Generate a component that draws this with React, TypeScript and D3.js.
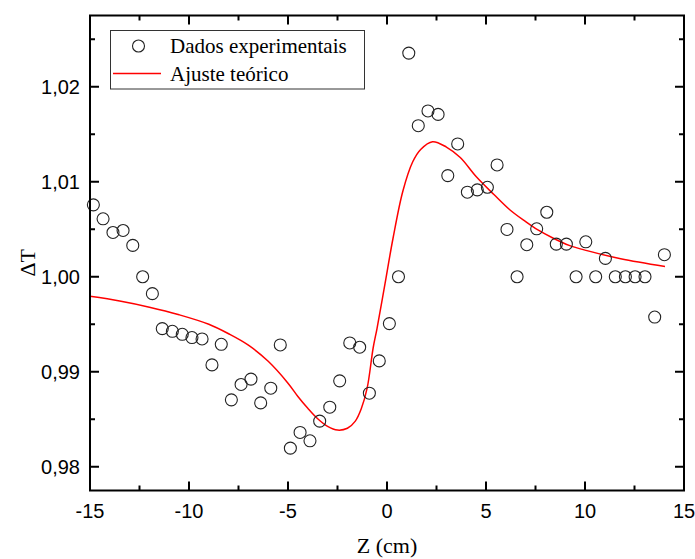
import React from 'react';
import * as d3 from 'd3';

const zData = [-14.83, -14.34, -13.84, -13.33, -12.84, -12.34, -11.85, -11.35, -10.84, -10.34, -9.85, -9.34, -8.84, -8.37, -7.86, -7.37, -6.87, -6.38, -5.87, -5.39, -4.88, -4.39, -3.89, -3.40, -2.89, -2.39, -1.88, -1.38, -0.89, -0.39, 0.12, 0.58, 1.10, 1.58, 2.07, 2.58, 3.07, 3.57, 4.06, 4.56, 5.07, 5.56, 6.06, 6.57, 7.06, 7.56, 8.07, 8.55, 9.06, 9.55, 10.04, 10.54, 11.03, 11.53, 12.04, 12.53, 13.03, 13.52, 14.01];
const tData = [1.00757, 1.0061, 1.00466, 1.00487, 1.0033, 1.0000, 0.99822, 0.99454, 0.99426, 0.99394, 0.9936, 0.99345, 0.99072, 0.99289, 0.98704, 0.98866, 0.98922, 0.98672, 0.98827, 0.99282, 0.98196, 0.98361, 0.98273, 0.9848, 0.98627, 0.98904, 0.99303, 0.99258, 0.98774, 0.99114, 0.99507, 1.0000, 1.02354, 1.0159, 1.01745, 1.01709, 1.01065, 1.01398, 1.0089, 1.00915, 1.00942, 1.01177, 1.00498, 1.0000, 1.00337, 1.00505, 1.00679, 1.00343, 1.00343, 1.0000, 1.00368, 1.0000, 1.00193, 1.0000, 1.0000, 1.0000, 1.0000, 0.99576, 1.00232];

const zFit = [-15.0, -13.5, -12.0, -10.5, -9.0, -8.0, -7.0, -6.0, -5.0, -4.5, -4.0, -3.5, -3.0, -2.5, -2.0, -1.6, -1.3, -1.0, -0.7, -0.5, -0.1, 0.3, 0.8, 1.3, 1.7, 2.3, 3.0, 3.7, 4.5, 5.4, 6.2, 7.0, 7.6, 8.4, 9.2, 10.1, 11.8, 14.04];
const tFit = [0.99794, 0.99745, 0.99680, 0.99600, 0.99500, 0.99400, 0.99280, 0.99110, 0.98880, 0.98740, 0.98615, 0.98505, 0.98425, 0.98386, 0.98405, 0.98480, 0.98610, 0.98830, 0.99250, 0.99460, 0.99927, 1.00400, 1.00900, 1.01210, 1.01340, 1.01422, 1.01365, 1.01255, 1.01055, 1.00865, 1.00705, 1.00580, 1.00495, 1.00405, 1.00330, 1.00275, 1.00190, 1.00109];

const xTicks = [-15, -10, -5, 0, 5, 10, 15];
const xMinor = [-12.5, -7.5, -2.5, 2.5, 7.5, 12.5];
const yTicks = [0.98, 0.99, 1.0, 1.01, 1.02];
const yMinor = [0.985, 0.995, 1.005, 1.015, 1.025];
const legendLabels = ['Dados experimentais', 'Ajuste teórico'];
const xLabel = 'Z (cm)';
const yLabel = 'ΔT';

export default function App() {
  const W = 695, H = 559;
  const L = 90, R = 684, T = 15.5, B = 490.5;
  const x = d3.scaleLinear().domain([-15, 15]).range([L, R]);
  const y = d3.scaleLinear().domain([0.9775, 1.0275]).range([B, T]);
  const fmtY = (v: number) => d3.format('.2f')(v).replace('.', ',');
  const line = d3.line<number>()
    .x((_, i) => x(zFit[i]))
    .y((d) => y(d))
    .curve(d3.curveCatmullRom.alpha(0.5));
  const sans = 'Arial, "Liberation Sans", sans-serif';
  const serif = '"Times New Roman", "Liberation Serif", serif';
  const majLen = 9, minLen = 5;
  return (
    <svg width={W} height={H} style={{ position: 'absolute', left: 0, top: 0, background: '#fff' }}>
      <rect x={0} y={0} width={W} height={H} fill="#fff" />
      <path d={line(tFit) || ''} fill="none" stroke="#ff0000" strokeWidth={1.5} />
      {zData.map((z, i) => (
        <circle key={i} cx={x(z)} cy={y(tData[i])} r={6} fill="none" stroke="#222" strokeWidth={1.1} />
      ))}
      {xTicks.map((t) => (
        <g key={'xt' + t}>
          <line x1={x(t)} x2={x(t)} y1={B} y2={B - majLen} stroke="#000" strokeWidth={2} />
          <line x1={x(t)} x2={x(t)} y1={T} y2={T + majLen} stroke="#000" strokeWidth={2} />
          <text x={x(t)} y={518} textAnchor="middle" fontFamily={sans} fontSize={20} fill="#000">{t}</text>
        </g>
      ))}
      {xMinor.map((t) => (
        <g key={'xm' + t}>
          <line x1={x(t)} x2={x(t)} y1={B} y2={B - minLen} stroke="#000" strokeWidth={2} />
          <line x1={x(t)} x2={x(t)} y1={T} y2={T + minLen} stroke="#000" strokeWidth={2} />
        </g>
      ))}
      {yTicks.map((t) => (
        <g key={'yt' + t}>
          <line x1={L} x2={L + majLen} y1={y(t)} y2={y(t)} stroke="#000" strokeWidth={2} />
          <line x1={R} x2={R - majLen} y1={y(t)} y2={y(t)} stroke="#000" strokeWidth={2} />
          <text x={80} y={y(t) + 7} textAnchor="end" fontFamily={sans} fontSize={20} fill="#000">{fmtY(t)}</text>
        </g>
      ))}
      {yMinor.map((t) => (
        <g key={'ym' + t}>
          <line x1={L} x2={L + minLen} y1={y(t)} y2={y(t)} stroke="#000" strokeWidth={2} />
          <line x1={R} x2={R - minLen} y1={y(t)} y2={y(t)} stroke="#000" strokeWidth={2} />
        </g>
      ))}
      <rect x={L} y={T} width={R - L} height={B - T} fill="none" stroke="#000" strokeWidth={2} />
      <rect x={110.5} y={30.5} width={254} height={58.5} fill="#fff" stroke="#333" strokeWidth={1} />
      <circle cx={138.5} cy={46} r={6} fill="none" stroke="#222" strokeWidth={1.1} />
      <text x={170} y={53} fontFamily={serif} fontSize={21} fill="#000">{legendLabels[0]}</text>
      <line x1={113} x2={161} y1={73.5} y2={73.5} stroke="#ff0000" strokeWidth={1.5} />
      <text x={170} y={81} fontFamily={serif} fontSize={21} fill="#000">{legendLabels[1]}</text>
      <text x={(L + R) / 2} y={553} textAnchor="middle" fontFamily={serif} fontSize={22} fill="#000">{xLabel}</text>
      <text transform={`translate(35, ${y(1.0) - 14}) rotate(-90)`} textAnchor="middle" fontFamily={serif} fontSize={22} fill="#000">{yLabel}</text>
    </svg>
  );
}
